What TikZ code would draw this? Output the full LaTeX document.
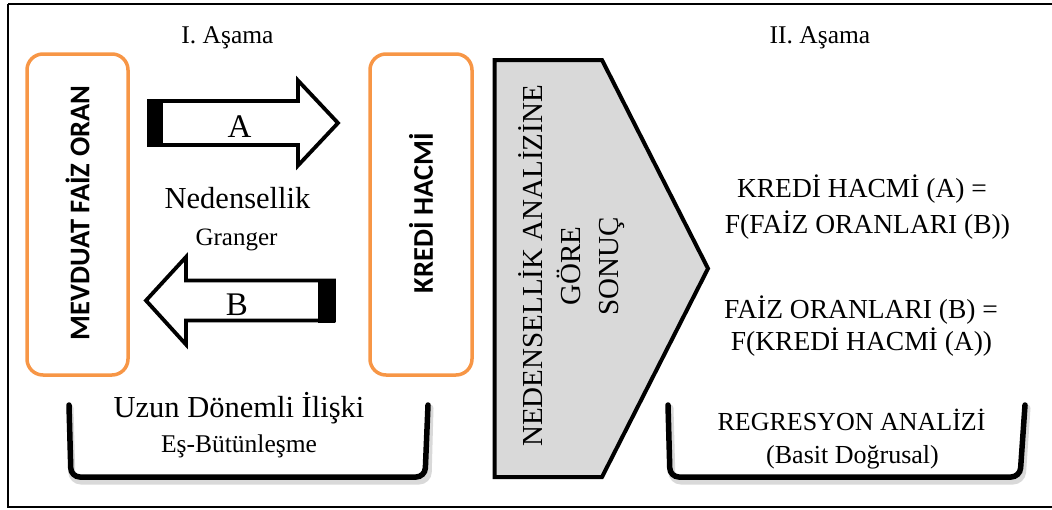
\documentclass[tikz,border=0pt]{standalone}
\usepackage{fontspec}
\setmainfont{Liberation Serif}
\newfontfamily\calfont{Carlito}
\begin{document}
\begin{tikzpicture}[x=1pt,y=-1pt,
  orangebox/.style={draw=boxorange,line width=3.5pt,rounded corners=16pt},
  blockarrow/.style={draw=black,fill=white,line width=3.8pt,line join=miter},
  bracketline/.style={draw=black,line width=5.5pt,rounded corners=9pt,line cap=round},
  bracketshadow/.style={draw=black!25,line width=7pt,rounded corners=9pt,line cap=round,opacity=0.6},
  txt/.style={anchor=base,inner sep=0pt,text=black},
  sidetxt/.style={font=\calfont\bfseries\fontsize{28.5}{32}\selectfont,rotate=90,inner sep=0pt}
]
\definecolor{boxorange}{HTML}{F79646}
\definecolor{pentfill}{HTML}{D9D9D9}
\useasboundingbox (0,0) rectangle (1052,509);
% outer frame
\draw[line width=2pt] (8,4) -- (1070,4) (8,4) -- (8,506.5) -- (1070,506.5);
% orange boxes
\draw[orangebox] (27,54) rectangle (128,375);
\draw[orangebox] (370,54) rectangle (472,375);
\node[sidetxt] (mevduat) at (77.5,213) {MEVDUAT FAİZ ORAN};
\node[sidetxt] (kredi) at (421,213) {KREDİ HACMİ};
% arrow A
\draw[blockarrow] (149,101) -- (298,101) -- (298,80.5) -- (338,123) -- (298,165.5) -- (298,145) -- (149,145) -- cycle;
\fill[black] (147,99.5) rectangle (163,146.5);
\node[txt,font=\fontsize{33}{38}\selectfont] (A) at (239.5,137) {A};
% arrow B
\draw[blockarrow] (334,280.5) -- (186,280.5) -- (186,257) -- (146,300.5) -- (186,344.5) -- (186,320.5) -- (334,320.5) -- cycle;
\fill[black] (318,278.5) rectangle (335,322.5);
\node[txt,font=\fontsize{33}{38}\selectfont] (B) at (237,315) {B};
% left texts
\node[txt,font=\fontsize{25.5}{30}\selectfont] (asama1) at (227.5,43) {I. Aşama};
\node[txt,font=\fontsize{30.5}{35}\selectfont] (neden) at (237.5,208) {Nedensellik};
\node[txt,font=\fontsize{25}{30}\selectfont] (granger) at (236.5,245) {Granger};
\node[txt,font=\fontsize{30.5}{35}\selectfont] (uzun) at (239,417) {Uzun Dönemli İlişki};
\node[txt,font=\fontsize{25.5}{30}\selectfont] (es) at (239,452) {Eş-Bütünleşme};
% left bracket
\draw[bracketshadow] (70,408) -- (72,481) -- (428,481) -- (430,408);
\draw[bracketline] (69,405) -- (71,477) -- (425,477) -- (428,405);
% pentagon
\draw[fill=pentfill,line width=4pt,line join=miter] (494.5,60) -- (602,60) -- (708,268.5) -- (602,477) -- (494.5,477) -- cycle;
\node[rotate=90,align=center,font=\fontsize{29}{38}\selectfont,inner sep=0pt] (pent) at (572,266) {NEDENSELLİK ANALİZİNE\\GÖRE\\SONUÇ};
% right texts
\node[txt,font=\fontsize{25.5}{30}\selectfont] (asama2) at (820,43) {II. Aşama};
\node[txt,font=\fontsize{27.5}{32}\selectfont] (r1) at (862,197) {KREDİ HACMİ (A) =};
\node[txt,font=\fontsize{27.5}{32}\selectfont] (r2) at (867.5,233) {F(FAİZ ORANLARI (B))};
\node[txt,font=\fontsize{27.5}{32}\selectfont] (r3) at (861,318) {FAİZ ORANLARI (B) =};
\node[txt,font=\fontsize{27.5}{32}\selectfont] (r4) at (861.5,350) {F(KREDİ HACMİ (A))};
\node[txt,font=\fontsize{26}{30}\selectfont] (r5) at (851.5,430) {REGRESYON ANALİZİ};
\node[txt,font=\fontsize{26}{30}\selectfont] (r6) at (852.5,463) {(Basit Doğrusal)};
% right bracket
\draw[bracketshadow] (670,408) -- (672,481) -- (1022,481) -- (1027,408);
\draw[bracketline] (668,405) -- (670,477) -- (1020,477) -- (1025,405);
\end{tikzpicture}
\end{document}
